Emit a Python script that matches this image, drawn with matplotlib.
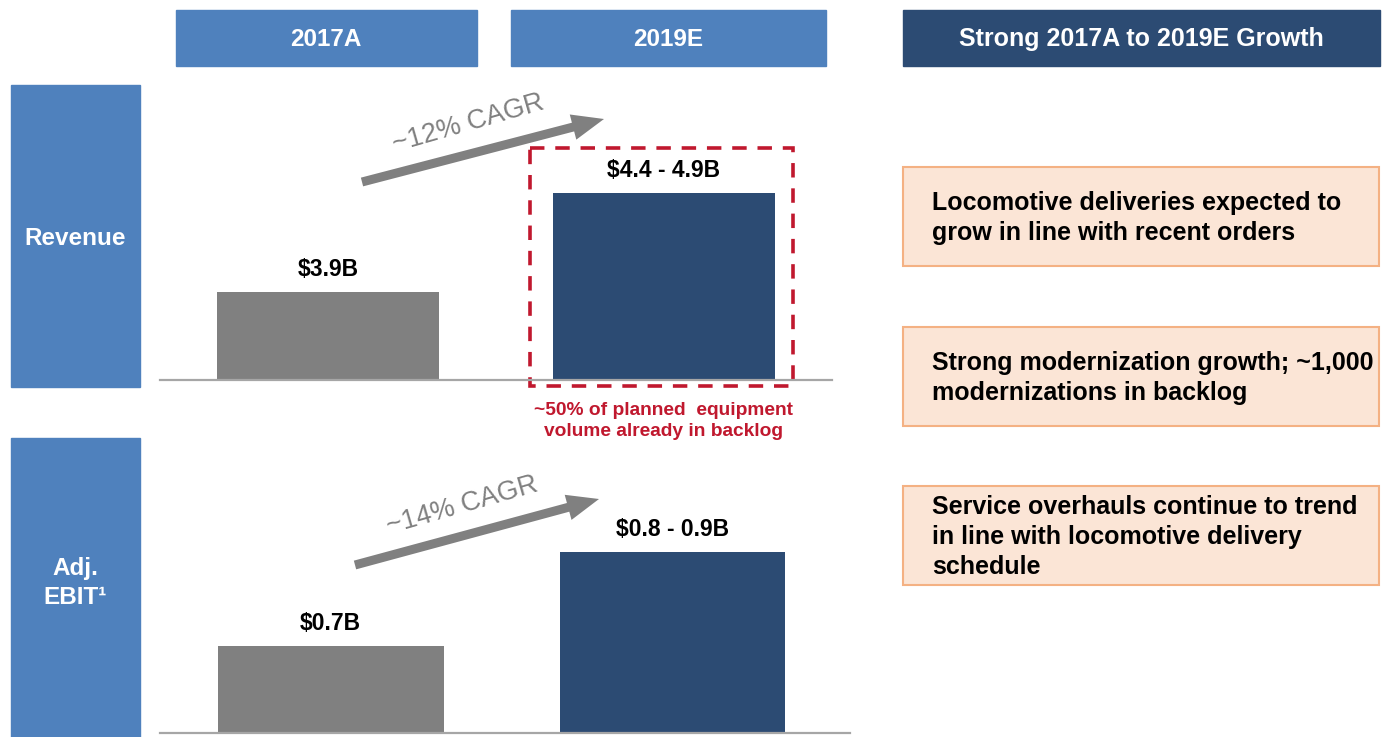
import matplotlib.pyplot as plt
from matplotlib.patches import Rectangle, FancyArrow

plt.rcParams['font.family'] = ['Liberation Sans', 'DejaVu Sans']

# data
periods = ["2017A", "2019E"]
revenue = [3.9, 4.65]          # 2019E drawn at midpoint of the range
revenue_labels = ["$3.9B", "$4.4 - 4.9B"]
ebit = [0.7, 0.85]
ebit_labels = ["$0.7B", "$0.8 - 0.9B"]
cagr_labels = ["~12% CAGR", "~14% CAGR"]
row_labels = ["Revenue", "Adj.\nEBIT\u00b9"]
growth_title = "Strong 2017A to 2019E Growth"
growth_points = [
    "Locomotive deliveries expected to\ngrow in line with recent orders",
    "Strong modernization growth; ~1,000\nmodernizations in backlog",
    "Service overhauls continue to trend\nin line with locomotive delivery\nschedule",
]
backlog_note = "~50% of planned  equipment\nvolume already in backlog"

light_blue = "#4F81BD"
navy = "#2C4B73"
grey = "#808080"
red = "#C0182E"

W, H = 1395, 737
fig = plt.figure(figsize=(W / 100, H / 100), dpi=100)

# overlay in pixel coordinates for slide decorations
ov = fig.add_axes([0, 0, 1, 1])
ov.set_xlim(0, W)
ov.set_ylim(H, 0)
ov.axis("off")


def px_axes(x0, y0, x1, y1):
    # axes from pixel box (y measured from top)
    return fig.add_axes([x0 / W, 1 - y1 / H, (x1 - x0) / W, (y1 - y0) / H])


# column headers
ov.add_patch(Rectangle((176, 10), 301, 56, color=light_blue))
ov.add_patch(Rectangle((511, 10), 315, 56, color=light_blue))
ov.add_patch(Rectangle((903, 10), 477, 56, color=navy))
ov.text(326, 39, periods[0], color="white", fontsize=17.5, fontweight="bold",
        ha="center", va="center")
ov.text(668, 39, periods[1], color="white", fontsize=17.5, fontweight="bold",
        ha="center", va="center")
ov.text(1141, 39, growth_title, color="white", fontsize=18, fontweight="bold",
        ha="center", va="center")

# row labels
ov.add_patch(Rectangle((11, 85), 129, 302, color=light_blue))
ov.add_patch(Rectangle((11, 438), 129, 299, color=light_blue))
ov.text(75, 238, row_labels[0], color="white", fontsize=17.5, fontweight="bold",
        ha="center", va="center")
ov.text(75, 583, row_labels[1], color="white", fontsize=17.5, fontweight="bold",
        ha="center", va="center", linespacing=1.35)


def bar_panel(ax, vals, labels, ylim, xlim):
    ax.bar(range(len(vals)), vals, width=0.66, color=[grey, navy], bottom=0)
    ax.set_xlim(*xlim)
    ax.set_ylim(*ylim)
    for s in ["top", "left", "right"]:
        ax.spines[s].set_visible(False)
    ax.spines["bottom"].set_color("#A6A6A6")
    ax.spines["bottom"].set_linewidth(1.6)
    ax.set_xticks([])
    ax.set_yticks([])
    ax.patch.set_alpha(0)
    for i, (v, lab) in enumerate(zip(vals, labels)):
        ax.annotate(lab, (i, v), xytext=(0, 8), textcoords="offset points",
                    ha="center", va="bottom", fontsize=16.5, fontweight="bold")


ax1 = px_axes(160, 140, 832, 380)
bar_panel(ax1, revenue, revenue_labels, (3.233, 5.05), (-0.5, 1.5))

ax2 = px_axes(160, 480, 850, 733)
bar_panel(ax2, ebit, ebit_labels, (0.561, 0.965), (-0.5, 1.52))

# CAGR arrows
for (x0, y0, x1, y1), (tx, ty), lab in zip(
        [(362, 182, 604, 119), (355, 565, 599, 499)],
        [(468, 124), (462, 506)], cagr_labels):
    ov.add_patch(FancyArrow(x0, y0, x1 - x0, y1 - y0, width=9, head_width=26,
                            head_length=32, length_includes_head=True,
                            color=grey, lw=0))
    ov.text(tx, ty, lab, color=grey, fontsize=19.5, ha="center", va="center",
            rotation=16)

# dashed box around 2019E revenue
ov.add_patch(Rectangle((530, 148), 263, 238, fill=False, edgecolor=red,
                       lw=2.6, linestyle=(0, (4, 3))))
ov.text(663, 421, backlog_note, color=red, fontsize=13.8, fontweight="bold",
        ha="center", va="center", linespacing=1.3)

# growth boxes
for y0, txt in zip([167, 327, 486], growth_points):
    ov.add_patch(Rectangle((903, y0), 476, 99, facecolor="#FBE5D6",
                           edgecolor="#F4B183", lw=1.5))
    ov.text(932, y0 + 51, txt, color="black", fontsize=18, fontweight="bold",
            ha="left", va="center", linespacing=1.32)

fig.savefig("out.png", dpi=100)
